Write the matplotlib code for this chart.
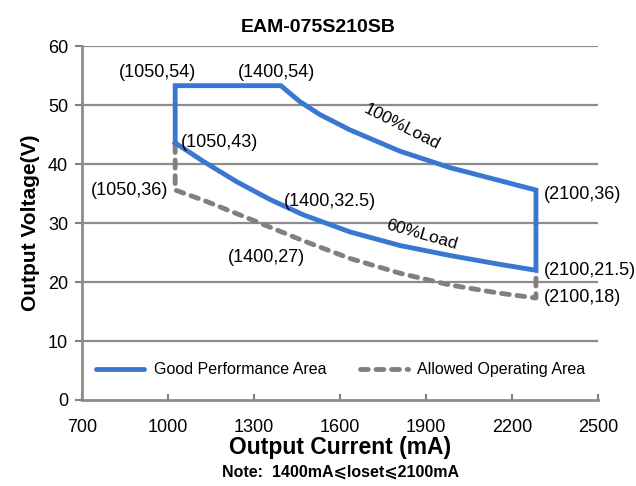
import matplotlib
matplotlib.use('Agg')
import matplotlib.pyplot as plt

plt.rcParams['font.family'] = ['Liberation Sans', 'DejaVu Sans']

# Data (plotted positions)
good_x = [1025, 1025, 1394, 1460, 1530, 1635, 1809, 1984, 2158, 2284,
          2284, 2158, 1984, 1809, 1635, 1472, 1356, 1240, 1122, 1025]
good_y = [43.6, 53.3, 53.3, 50.6, 48.4, 45.8, 42.2, 39.4, 37.2, 35.6,
          22.0, 23.0, 24.5, 26.2, 28.5, 31.4, 34.0, 37.0, 40.5, 43.6]

allowed_x = [1025, 1025, 1122, 1240, 1356, 1472, 1635, 1809, 1984, 2158, 2284, 2284]
allowed_y = [43.3, 35.6, 33.9, 31.6, 29.3, 27.0, 24.0, 21.5, 19.5, 18.1, 17.3, 22.0]

x_ticks = [700, 1000, 1300, 1600, 1900, 2200, 2500]
y_ticks = [0, 10, 20, 30, 40, 50, 60]

# point labels: (text, x, y, ha)
point_labels = [
    ('(1050,54)', 962, 55.6, 'center'),
    ('(1400,54)', 1380, 55.6, 'center'),
    ('(1050,43)', 1045, 43.6, 'left'),
    ('(1050,36)', 867, 35.6, 'center'),
    ('(1400,32.5)', 1565, 33.6, 'center'),
    ('(1400,27)', 1345, 24.1, 'center'),
    ('(2100,36)', 2311, 34.9, 'left'),
    ('(2100,21.5)', 2311, 22.0, 'left'),
    ('(2100,18)', 2311, 17.3, 'left'),
]

blue = '#3a77d1'
grey = '#808080'

fig = plt.figure(figsize=(6.36, 4.86), dpi=100)
ax = fig.add_axes([0.129, 0.177, 0.811, 0.728])

for yt in y_ticks[1:]:
    ax.axhline(yt, color='#8c8c8c', lw=1.6, zorder=1)

ax.plot(allowed_x, allowed_y, color=grey, lw=3.5, ls=(0, (1.6, 1.6)),
        dash_capstyle='round', zorder=2, label='Allowed Operating Area')
ax.plot(good_x, good_y, color=blue, lw=3.5, solid_joinstyle='miter',
        zorder=3, label='Good Performance Area')

for txt, x, y, ha in point_labels:
    ax.text(x, y, txt, fontsize=13, ha=ha, va='center', zorder=4)

ax.text(1816, 46.3, '100%Load', fontsize=12.5, rotation=-27,
        ha='center', va='center')
ax.text(1885, 28.0, '60%Load', fontsize=12.5, rotation=-16,
        ha='center', va='center')

ax.set_xlim(700, 2500)
ax.set_ylim(0, 60)
ax.set_xticks(x_ticks)
ax.set_yticks(y_ticks)
ax.tick_params(axis='x', direction='in', length=4, width=1.5, color=grey,
               labelsize=13, pad=14)
ax.tick_params(axis='y', direction='out', length=5, width=1.5, color=grey,
               labelsize=13, pad=5)
for s in ['top', 'right']:
    ax.spines[s].set_visible(False)
for s in ['left', 'bottom']:
    ax.spines[s].set_color('#8c8c8c')
    ax.spines[s].set_linewidth(2)

ax.set_title('EAM-075S210SB', fontsize=14, fontweight='bold', pad=10, x=0.457)
ax.set_xlabel('Output Current (mA)', fontsize=16.5, fontweight='bold', labelpad=0)
ax.set_ylabel('Output Voltage(V)', fontsize=15, fontweight='bold', labelpad=6)

handles, labels = ax.get_legend_handles_labels()
leg = ax.legend(handles[::-1], labels[::-1], loc='center left',
                bbox_to_anchor=(0.0, 0.085), ncol=2, frameon=False,
                fontsize=11.5, handlelength=3.0, columnspacing=2.1,
                handletextpad=0.6)
for line in leg.get_lines():
    line.set_solid_capstyle('round')

fig.text(0.536, 0.028, 'Note:  1400mA\u2a7dIoset\u2a7d2100mA', fontsize=11.5,
         fontweight='bold', ha='center', va='center')

fig.savefig('out.png', dpi=100)
